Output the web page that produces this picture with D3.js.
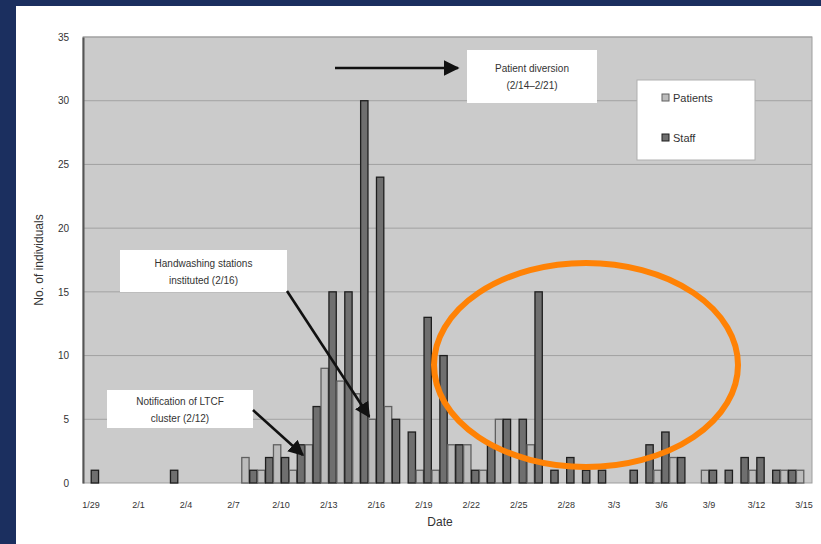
<!DOCTYPE html>
<html>
<head>
<meta charset="utf-8">
<script src="https://cdn.jsdelivr.net/npm/d3@7"></script>
<style>
  html, body { margin: 0; padding: 0; background: #1b2f5f; }
  #chart { width: 821px; height: 544px; }
  text { font-family: "Liberation Sans", Arial, sans-serif; }
</style>
</head>
<body>
<div id="chart"></div>
<script>
// daily counts, 1/29 .. 3/15
const dates = ["1/29","1/30","1/31","2/1","2/2","2/3","2/4","2/5","2/6","2/7",
  "2/8","2/9","2/10","2/11","2/12","2/13","2/14","2/15","2/16","2/17",
  "2/18","2/19","2/20","2/21","2/22","2/23","2/24","2/25","2/26","2/27",
  "2/28","3/1","3/2","3/3","3/4","3/5","3/6","3/7","3/8","3/9",
  "3/10","3/11","3/12","3/13","3/14","3/15"];
const patients = [0,0,0,0,0,0,0,0,0,0, 2,1,3,1,3,9,8,7,5,6, 0,1,1,3,3,1,5,0,3,0,
  0,0,0,0,0,0,1,2,0,1, 0,0,1,0,1,1];
const staff = [1,0,0,0,0,1,0,0,0,0, 1,2,2,3,6,15,15,30,24,5, 4,13,10,3,1,3,5,5,15,1,
  2,1,1,0,1,3,4,2,0,1, 1,2,2,1,1,0];
const tickDates = ["1/29","2/1","2/4","2/7","2/10","2/13","2/16","2/19","2/22","2/25",
  "2/28","3/3","3/6","3/9","3/12","3/15"];
const yTicks = [0,5,10,15,20,25,30,35];
const seriesNames = ["Patients","Staff"];

const width = 821, height = 544;
const margin = {left: 83, right: 9, top: 37, bottom: 61};

let svg = d3.select('#chart').append('svg')
    .attr('width', width)
    .attr('height', height);

// white slide panel
svg.append('rect')
    .attr('x', 16).attr('y', 6)
    .attr('width', width - 16).attr('height', height - 6)
    .attr('fill', '#ffffff');

const x = d3.scaleBand()
    .domain(dates)
    .range([margin.left, width - margin.right]);

const xSub = d3.scaleBand()
    .domain(seriesNames)
    .range([0, x.bandwidth()]);

const y = d3.scaleLinear()
    .domain([0, 35])
    .range([height - margin.bottom, margin.top]);

// plot area
svg.append('rect')
    .attr('x', margin.left).attr('y', margin.top)
    .attr('width', width - margin.left - margin.right)
    .attr('height', y(0) - margin.top)
    .attr('fill', '#cbcbcb')
    .attr('stroke', '#9d9d9d');

svg.append('g')
    .selectAll('line')
    .data(yTicks.slice(1))
    .join('line')
    .attr('x1', margin.left).attr('x2', width - margin.right)
    .attr('y1', d => y(d)).attr('y2', d => y(d))
    .attr('stroke', '#a2a2a2');

// bars
const colors = {Patients: '#bcbcbc', Staff: '#6f6f6f'};
const strokes = {Patients: '#606060', Staff: '#1e1e1e'};
const rows = dates.map((d, i) => ({date: d, Patients: patients[i], Staff: staff[i]}));

svg.append('g')
    .selectAll('g')
    .data(rows)
    .join('g')
    .attr('transform', d => `translate(${x(d.date)},0)`)
    .selectAll('rect')
    .data(d => seriesNames.map(k => ({key: k, value: d[k]})).filter(v => v.value > 0))
    .join('rect')
    .attr('x', d => xSub(d.key) + 0.3)
    .attr('width', xSub.bandwidth() - 0.6)
    .attr('y', d => y(d.value))
    .attr('height', d => y(0) - y(d.value))
    .attr('fill', d => colors[d.key])
    .attr('stroke', d => strokes[d.key])
    .attr('stroke-width', 1.3);

// axes
const yAxis = svg.append('g')
    .attr('transform', `translate(${margin.left},0)`)
    .call(d3.axisLeft(y).tickValues(yTicks).tickSize(0).tickPadding(14));
yAxis.select('.domain').attr('stroke', '#555').attr('stroke-width', 2);
yAxis.selectAll('text').attr('font-size', 10).attr('fill', '#333');

const xAxis = svg.append('g')
    .attr('transform', `translate(0,${y(0)})`)
    .call(d3.axisBottom(x).tickValues(tickDates).tickSize(0).tickPadding(19));
xAxis.select('.domain').remove();
xAxis.selectAll('text').attr('font-size', 9).attr('fill', '#333');

svg.append('text')
    .attr('x', 440).attr('y', 526)
    .attr('text-anchor', 'middle')
    .attr('font-size', 12).attr('fill', '#333')
    .text('Date');

svg.append('text')
    .attr('transform', `translate(43,${(margin.top + y(0)) / 2}) rotate(-90)`)
    .attr('text-anchor', 'middle')
    .attr('font-size', 12).attr('fill', '#333')
    .text('No. of individuals');

// arrow marker
svg.append('defs').append('marker')
    .attr('id', 'arrow')
    .attr('viewBox', '0 0 10 10')
    .attr('refX', 9).attr('refY', 5)
    .attr('markerWidth', 6).attr('markerHeight', 6)
    .attr('orient', 'auto')
    .append('path')
    .attr('d', 'M0,0 L10,5 L0,10 z')
    .attr('fill', '#111');

function note(bx, by, bw, bh, lines) {
    svg.append('rect')
        .attr('x', bx).attr('y', by)
        .attr('width', bw).attr('height', bh)
        .attr('fill', '#fff');
    lines.forEach((t, i) => {
        svg.append('text')
            .attr('x', bx + bw / 2)
            .attr('y', by + bh / 2 + (i - (lines.length - 1) / 2) * 17 + 4)
            .attr('text-anchor', 'middle')
            .attr('font-size', 10).attr('fill', '#333')
            .text(t);
    });
}

function arrow(x1, y1, x2, y2) {
    svg.append('line')
        .attr('x1', x1).attr('y1', y1)
        .attr('x2', x2).attr('y2', y2)
        .attr('stroke', '#111').attr('stroke-width', 2.6)
        .attr('marker-end', 'url(#arrow)');
}

note(467, 50, 130, 53, ['Patient diversion', '(2/14\u20132/21)']);
arrow(335, 68, 458, 68);

note(120, 250, 167, 42, ['Handwashing stations', 'instituted (2/16)']);
arrow(287, 291, x('2/16') + 1, y(5.2));

note(107, 390, 146, 38, ['Notification of LTCF', 'cluster (2/12)']);
arrow(253, 410, x('2/12') - 2, y(2.2));

// legend
svg.append('rect')
    .attr('x', 637).attr('y', 80)
    .attr('width', 118).attr('height', 80)
    .attr('fill', '#fff')
    .attr('stroke', '#b0b0b0');

const leg = svg.append('g')
    .selectAll('g')
    .data(seriesNames)
    .join('g')
    .attr('transform', (d, i) => `translate(662,${98 + i * 40})`);
leg.append('rect')
    .attr('x', 0).attr('y', -4)
    .attr('width', 7).attr('height', 7)
    .attr('fill', d => colors[d])
    .attr('stroke', d => strokes[d]);
leg.append('text')
    .attr('x', 11).attr('y', 4)
    .attr('font-size', 11).attr('fill', '#333')
    .text(d => d);

// orange highlight ellipse
svg.append('ellipse')
    .attr('cx', 586).attr('cy', 365)
    .attr('rx', 152).attr('ry', 102)
    .attr('fill', 'none')
    .attr('stroke', '#ff8205')
    .attr('stroke-width', 6);
</script>
</body>
</html>
